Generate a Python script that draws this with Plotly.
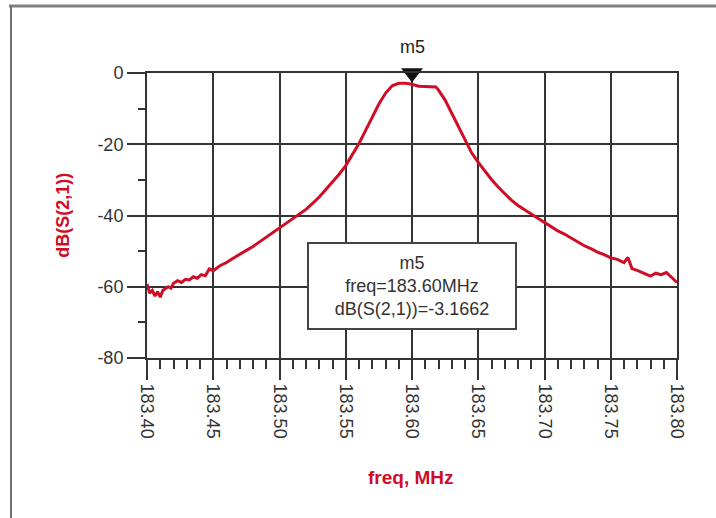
import plotly.graph_objects as go

freq = [183.400, 183.402, 183.404, 183.406, 183.408, 183.410, 183.412, 183.414, 183.416, 183.418,
        183.420, 183.423, 183.426, 183.429, 183.432, 183.435, 183.438, 183.441, 183.444, 183.447,
        183.450, 183.455, 183.460, 183.465, 183.470,
        183.475, 183.480, 183.485, 183.490, 183.495, 183.500, 183.505, 183.510, 183.515, 183.520,
        183.525, 183.530, 183.535, 183.540, 183.545, 183.550, 183.555, 183.560, 183.565, 183.570,
        183.575, 183.580, 183.585, 183.590, 183.595, 183.600, 183.605, 183.610, 183.615, 183.618,
        183.620, 183.625, 183.630, 183.635, 183.640, 183.645, 183.650, 183.655, 183.660, 183.665,
        183.670, 183.675, 183.680, 183.685, 183.690, 183.695, 183.700, 183.705, 183.710, 183.715,
        183.720, 183.725, 183.730, 183.735, 183.740, 183.745, 183.750, 183.755, 183.760, 183.763,
        183.766, 183.770, 183.775, 183.780, 183.784, 183.788, 183.792, 183.796, 183.800]
s21_db = [-59.2, -61.8, -61.0, -62.6, -61.4, -62.9, -61.0, -60.6, -60.0, -60.4,
          -59.0, -58.3, -58.8, -57.9, -58.1, -57.2, -57.6, -56.6, -56.9, -55.0,
          -55.5, -54.1, -53.2, -52.0, -51.0,
          -49.8, -48.7, -47.4, -46.3, -44.9, -43.5, -42.2, -41.0, -39.8, -38.3,
          -36.6, -34.8, -32.7, -30.6, -28.4, -26.0, -23.0, -19.8, -16.1, -12.3,
          -8.7, -5.7, -3.6, -2.9, -2.9, -3.17, -3.7, -3.8, -3.8, -3.9,
          -4.8, -7.6, -11.3, -15.0, -18.7, -22.4, -25.1, -27.6, -29.9, -32.0,
          -34.0, -35.7, -37.2, -38.5, -39.6, -40.8, -42.0, -43.1, -44.3, -45.2,
          -46.3, -47.3, -48.5, -49.3, -50.3, -51.0, -51.9, -52.3, -53.2, -51.8,
          -54.9, -55.4, -56.1, -57.0, -56.2, -56.6, -56.0, -57.4, -58.8]

x_tickvals = [183.40, 183.45, 183.50, 183.55, 183.60, 183.65, 183.70, 183.75, 183.80]
x_ticktext = ["183.40", "183.45", "183.50", "183.55", "183.60", "183.65", "183.70", "183.75", "183.80"]
y_tickvals = [0, -20, -40, -60, -80]
y_ticktext = ["0", "-20", "-40", "-60", "-80"]

marker_name = "m5"
marker_freq = [183.60]
marker_db = [0]
marker_text = "m5<br>freq=183.60MHz<br>dB(S(2,1))=-3.1662"

RED = "#cf0d26"
GRID = "#333333"
FONT = "Arial, Liberation Sans, sans-serif"

fig = go.Figure()
fig.add_trace(go.Scatter(x=freq, y=s21_db, mode="lines",
                         line=dict(color=RED, width=3), showlegend=False, hoverinfo="skip"))
fig.add_trace(go.Scatter(x=marker_freq, y=marker_db, mode="markers",
                         marker=dict(symbol="triangle-down", size=19, color="#111111"),
                         cliponaxis=False, showlegend=False))

axis_common = dict(showline=True, linecolor=GRID, linewidth=2, mirror=True,
                   showgrid=True, gridcolor=GRID, gridwidth=2, zeroline=False,
                   ticks="outside", tickcolor=GRID, tickwidth=2,
                   tickfont=dict(family=FONT, size=18, color="#333333"))

fig.update_xaxes(range=[183.40, 183.80], tickvals=x_tickvals, ticktext=x_ticktext,
                 tickangle=90, ticklen=20,
                 minor=dict(dtick=0.01, ticks="outside", ticklen=9, tickcolor=GRID, tickwidth=2, showgrid=False),
                 **axis_common)
fig.update_yaxes(range=[-80, 0], tickvals=y_tickvals, ticktext=y_ticktext, ticklen=18,
                 minor=dict(dtick=10, ticks="outside", ticklen=7, tickcolor=GRID, tickwidth=2, showgrid=False),
                 **axis_common)

annotations = [
    dict(text="<b>dB(S(2,1))</b>", xref="paper", yref="paper", x=-0.160, y=0.5,
         xanchor="center", yanchor="middle",
         textangle=-90, showarrow=False, font=dict(family=FONT, size=18, color=RED)),
    dict(text="<b>freq, MHz</b>", xref="paper", yref="paper", x=0.498, y=-0.421,
         xanchor="center", yanchor="middle",
         showarrow=False, font=dict(family=FONT, size=19, color=RED)),
    dict(text=marker_name, xref="x", yref="paper", x=marker_freq[0], y=1.0, yshift=26,
         xanchor="center", yanchor="middle",
         showarrow=False, font=dict(family=FONT, size=18, color="#222222")),
    dict(text=marker_text, xref="x", yref="paper", x=marker_freq[0], y=0.251,
         xanchor="center", yanchor="middle",
         showarrow=False, font=dict(family=FONT, size=18, color="#333333"),
         bgcolor="white", bordercolor="#444444", borderwidth=2,
         width=204, height=82, align="center"),
]

shapes = [
    dict(type="line", xref="paper", yref="paper", x0=(9 - 147) / 530, x1=(716 - 147) / 530,
         y0=(358 - 6) / 285, y1=(358 - 6) / 285, line=dict(color="#808080", width=3)),
    dict(type="line", xref="paper", yref="paper", x0=(11 - 147) / 530, x1=(11 - 147) / 530,
         y0=(358 - 6) / 285, y1=(358 - 520) / 285, line=dict(color="#707070", width=2)),
]

fig.update_layout(width=716, height=518, margin=dict(l=147, r=39, t=73, b=160),
                  plot_bgcolor="white", paper_bgcolor="white",
                  annotations=annotations, shapes=shapes, showlegend=False,
                  font=dict(family=FONT))

fig.write_html("out.html", config={"displayModeBar": False},
               post_script="document.body.style.margin='0';")
